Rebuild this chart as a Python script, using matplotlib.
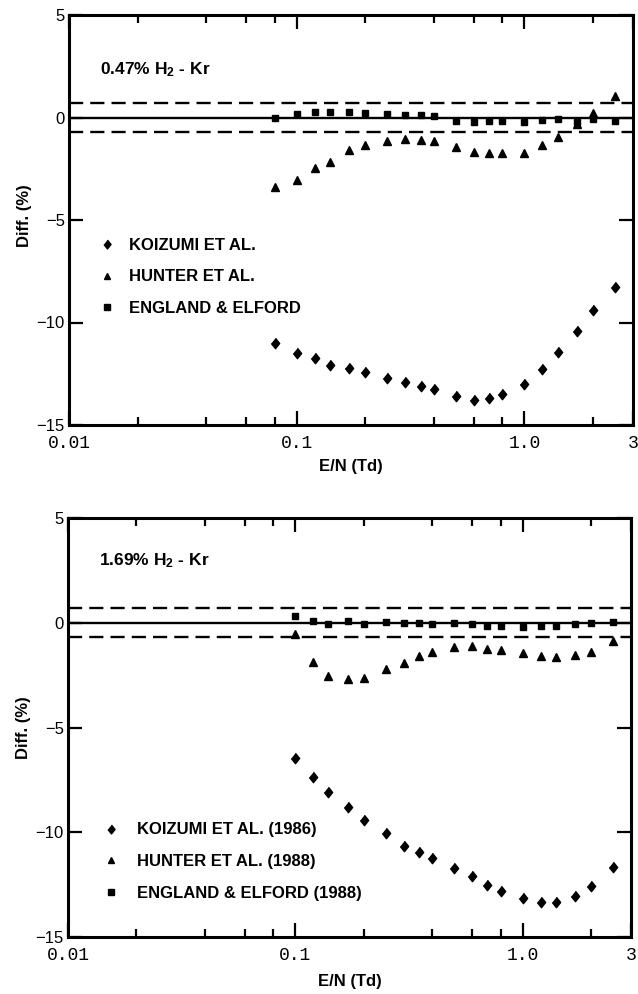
import matplotlib
matplotlib.use('Agg')
from matplotlib import pyplot as plt
from matplotlib.ticker import FixedLocator, NullLocator

plt.rcParams['font.family'] = 'Liberation Sans'
plt.rcParams['mathtext.fontset'] = 'custom'
plt.rcParams['mathtext.rm'] = 'Liberation Sans:bold'
plt.rcParams['mathtext.default'] = 'rm'

# ---- data (E/N in Td, difference in %) ----
en_top = [0.08, 0.1, 0.12, 0.14, 0.17, 0.2, 0.25, 0.3, 0.35, 0.4,
          0.5, 0.6, 0.7, 0.8, 1.0, 1.2, 1.4, 1.7, 2.0, 2.5]
koizumi_top = [-11.0, -11.5, -11.75, -12.05, -12.2, -12.4, -12.7, -12.9, -13.1, -13.25,
               -13.6, -13.8, -13.7, -13.5, -13.0, -12.25, -11.45, -10.4, -9.4, -8.25]
hunter_top = [-3.4, -3.05, -2.45, -2.15, -1.6, -1.35, -1.15, -1.05, -1.1, -1.15,
              -1.45, -1.7, -1.75, -1.75, -1.75, -1.35, -0.95, -0.3, 0.2, 1.05]
england_top = [0.0, 0.18, 0.29, 0.26, 0.29, 0.23, 0.15, 0.1, 0.1, 0.07,
               -0.15, -0.23, -0.18, -0.15, -0.23, -0.11, -0.06, -0.2, -0.05, -0.18]

en_bot = [0.1, 0.12, 0.14, 0.17, 0.2, 0.25, 0.3, 0.35, 0.4,
          0.5, 0.6, 0.7, 0.8, 1.0, 1.2, 1.4, 1.7, 2.0, 2.5]
koizumi_bot = [-6.45, -7.35, -8.1, -8.8, -9.4, -10.05, -10.65, -10.95, -11.25,
               -11.7, -12.1, -12.5, -12.8, -13.15, -13.35, -13.35, -13.05, -12.55, -11.65]
hunter_bot = [-0.55, -1.85, -2.55, -2.7, -2.65, -2.2, -1.9, -1.6, -1.4,
              -1.15, -1.1, -1.25, -1.3, -1.45, -1.6, -1.65, -1.55, -1.4, -0.85]
england_bot = [0.3, 0.1, -0.08, 0.08, -0.08, 0.02, -0.03, -0.03, -0.08,
               -0.03, -0.08, -0.15, -0.15, -0.2, -0.15, -0.15, -0.08, -0.03, 0.05]

x_major = [0.01, 0.1, 1.0, 3]
x_major_labels = ['0.01', '0.1', '1.0', '3']
x_minor = [0.02, 0.04, 0.06, 0.08, 0.2, 0.4, 0.6, 0.8, 2]
y_major = [5, 0, -5, -10, -15]
band = 0.7

DIAMOND = [(0, 1), (0.8, 0), (0, -1), (-0.8, 0)]


def draw_panel(ax, en, koizumi, hunter, england, labels, mix_text, text_y,
               legend_anchor, textpad):
    ax.set_xscale('log')
    ax.set_xlim(0.01, 3)
    ax.set_ylim(-15, 5)

    # reference line and +-0.7 % band
    ax.axhline(0, color='black', lw=1.7, zorder=1)
    for b in (band, -band):
        ax.axhline(b, color='black', lw=1.7, dashes=(6, 3), zorder=1)

    ax.plot(en, koizumi, ls='none', marker=DIAMOND, ms=7.5, color='black', label=labels[0])
    ax.plot(en, hunter, ls='none', marker='^', ms=5.5, color='black', label=labels[1])
    ax.plot(en, england, ls='none', marker='s', ms=5, color='black', label=labels[2])

    ax.text(0.0137, text_y, mix_text, fontsize=12.5, fontweight='bold', va='baseline')

    ax.legend(loc='center left', bbox_to_anchor=legend_anchor, frameon=False,
              borderpad=0, borderaxespad=0, handlelength=1.0, handletextpad=textpad,
              labelspacing=1.0, numpoints=1, markerscale=0.85,
              prop={'weight': 'bold', 'size': 12})

    ax.xaxis.set_major_locator(FixedLocator(x_major))
    ax.xaxis.set_minor_locator(FixedLocator(x_minor))
    ax.set_xticks(x_major)
    ax.set_xticklabels(x_major_labels, fontfamily='Liberation Mono', fontsize=13)
    ax.xaxis.set_minor_formatter(plt.NullFormatter())
    ax.set_yticks(y_major)
    ax.set_yticklabels([str(v).replace('-', '\u2212') for v in y_major], fontsize=12)
    ax.yaxis.set_minor_locator(NullLocator())

    ax.tick_params(which='both', direction='in', top=True, right=True, width=1.6)
    ax.tick_params(which='major', length=10)
    ax.tick_params(which='minor', length=6)
    ax.tick_params(axis='x', pad=7)
    ax.tick_params(axis='y', pad=3)
    for s in ax.spines.values():
        s.set_linewidth(2.2)

    ax.set_xlabel('E/N (Td)', fontsize=12, fontweight='bold')
    ax.set_ylabel('Diff. (%)', fontsize=12, fontweight='bold')


fig = plt.figure(figsize=(6.38, 9.94), dpi=100)
ax1 = fig.add_axes([69 / 638, (994 - 425) / 994, 564 / 638, 410 / 994])
ax2 = fig.add_axes([68 / 638, (994 - 937) / 994, 563 / 638, 419 / 994])

draw_panel(ax1, en_top, koizumi_top, hunter_top, england_top,
           ['KOIZUMI ET AL.', 'HUNTER ET AL.', 'ENGLAND & ELFORD'],
           '0.47% H$_2$ - Kr', 2.1, (0.052, 0.361), 0.84)
draw_panel(ax2, en_bot, koizumi_bot, hunter_bot, england_bot,
           ['KOIZUMI ET AL. (1986)', 'HUNTER ET AL. (1988)', 'ENGLAND & ELFORD (1988)'],
           '1.69% H$_2$ - Kr', 2.75, (0.0615, 0.18), 1.07)

ax1.xaxis.set_label_coords(0.5, -0.083)
ax2.xaxis.set_label_coords(0.5, -0.088)
ax1.yaxis.set_label_coords(-0.066, 0.51)
ax2.yaxis.set_label_coords(-0.066, 0.5)

fig.savefig('out.png', dpi=100)
